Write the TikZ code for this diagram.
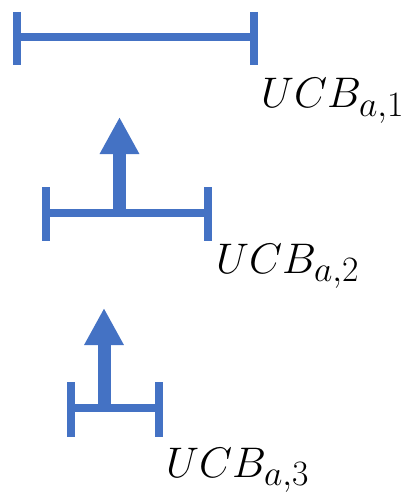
\documentclass[tikz,border=0pt]{standalone}
\usepackage{graphicx}
\usetikzlibrary{arrows.meta}
\definecolor{barblue}{HTML}{4472C4}
\newcommand{\ucblabel}[1]{\scalebox{1.72}{\Huge$UCB_{a,#1}$}}
\begin{document}
\begin{tikzpicture}[x=1pt,y=-1pt,
  bar/.style={draw=barblue,line width=8pt,line cap=butt},
  push/.style={draw=barblue,line width=13pt,-{Triangle[width=37pt,length=37pt]}},
  ucb/.style={anchor=base west,inner sep=0pt}]
\useasboundingbox (0,0) rectangle (405,492);
% first interval
\coordinate (l1t) at (16.7,12);  \coordinate (l1b) at (16.7,65);
\coordinate (r1t) at (254,12);   \coordinate (r1b) at (254,65);
\coordinate (l1m) at (16.7,37.5); \coordinate (r1m) at (254,37.5);
\draw[bar] (l1t) -- (l1b);
\draw[bar] (r1t) -- (r1b);
\draw[bar] (l1m) -- (r1m);
\node[ucb] (u1) at (261,108) {\ucblabel{1}};
% second interval
\coordinate (l2t) at (45.5,187);  \coordinate (l2b) at (45.5,241);
\coordinate (r2t) at (208,187);   \coordinate (r2b) at (208,241);
\coordinate (l2m) at (45.5,213);  \coordinate (r2m) at (208,213);
\coordinate (c2) at (119.5,213);  \coordinate (tip2) at (119.5,117);
\draw[bar] (l2t) -- (l2b);
\draw[bar] (r2t) -- (r2b);
\draw[bar] (l2m) -- (r2m);
\draw[push] (c2) -- (tip2);
\node[ucb] (u2) at (216,273) {\ucblabel{2}};
% third interval
\coordinate (l3t) at (71,382);  \coordinate (l3b) at (71,437);
\coordinate (r3t) at (159,382); \coordinate (r3b) at (159,437);
\coordinate (l3m) at (71,407.5); \coordinate (r3m) at (159,407.5);
\coordinate (c3) at (104,407.5); \coordinate (tip3) at (104,308);
\draw[bar] (l3t) -- (l3b);
\draw[bar] (r3t) -- (r3b);
\draw[bar] (l3m) -- (r3m);
\draw[push] (c3) -- (tip3);
\node[ucb] (u3) at (166,477) {\ucblabel{3}};
\end{tikzpicture}
\end{document}
